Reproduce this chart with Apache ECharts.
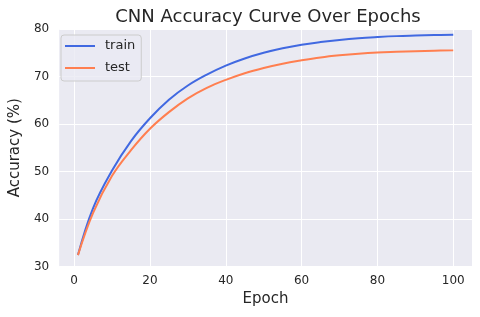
<!DOCTYPE html>
<html>
<head>
<meta charset="utf-8">
<script src="https://cdn.jsdelivr.net/npm/echarts@6/dist/echarts.min.js"></script>
<style>
html,body{margin:0;padding:0;background:#fff;}
#chart{width:480px;height:317px;}
</style>
</head>
<body>
<div id="chart"></div>
<script>
var epochs = [1, 5, 10, 15, 20, 25, 30, 35, 40, 45, 50, 55, 60, 65, 70, 75, 80, 85, 90, 95, 100];
var trainAcc = [32.4, 42.3, 50.2, 56.4, 61.2, 65.1, 68.1, 70.4, 72.3, 73.8, 75.0, 75.95, 76.7, 77.25, 77.7, 78.05, 78.3, 78.5, 78.62, 78.72, 78.8];
var testAcc = [32.4, 41.3, 49.1, 54.5, 59.0, 62.5, 65.4, 67.6, 69.3, 70.7, 71.8, 72.7, 73.4, 74.0, 74.45, 74.8, 75.05, 75.2, 75.33, 75.43, 75.5];
var xTicks = [0, 20, 40, 60, 80, 100];

var font = 'DejaVu Sans';
var txt = '#262626';
function pairs(xs, ys) { return xs.map(function (x, i) { return [x, ys[i]]; }); }

var chart = echarts.init(document.getElementById('chart'), null, {renderer: 'canvas'});
chart.setOption({
  animation: false,
  backgroundColor: '#ffffff',
  title: {
    text: 'CNN Accuracy Curve Over Epochs',
    left: 263, top: 3, textAlign: 'center',
    textStyle: {fontFamily: font, fontSize: 18, fontWeight: 'normal', color: txt}
  },
  grid: {
    left: 54, top: 29, width: 418, height: 237.5,
    show: true, backgroundColor: '#EAEAF2', borderWidth: 0, containLabel: false
  },
  legend: {
    orient: 'vertical', left: 61, top: 35,
    icon: 'rect', itemWidth: 30, itemHeight: 2, itemGap: 6,
    padding: [3, 6, 5, 4],
    backgroundColor: 'rgba(234,234,242,0.8)', borderColor: '#cccccc', borderWidth: 1, borderRadius: 3,
    textStyle: {fontFamily: font, fontSize: 13, color: txt, lineHeight: 16, padding: [0, 0, 0, 5]},
    data: ['train', 'test']
  },
  xAxis: {
    type: 'value', min: -3.95, max: 104.95,
    name: 'Epoch', nameLocation: 'middle', nameGap: 25,
    nameTextStyle: {fontFamily: font, fontSize: 15, color: txt},
    axisLine: {show: false},
    axisTick: {show: false, customValues: xTicks},
    axisLabel: {customValues: xTicks, fontFamily: font, fontSize: 12, color: txt, margin: 8},
    splitLine: {show: true, lineStyle: {color: '#ffffff', width: 1}}
  },
  yAxis: {
    type: 'value', min: 30, max: 80, interval: 10,
    name: 'Accuracy (%)', nameLocation: 'middle', nameGap: 34,
    nameTextStyle: {fontFamily: font, fontSize: 15, color: txt},
    axisLine: {show: false},
    axisTick: {show: false},
    axisLabel: {fontFamily: font, fontSize: 12, color: txt, margin: 10},
    splitLine: {show: true, lineStyle: {color: '#ffffff', width: 1}}
  },
  series: [
    {name: 'train', type: 'line', data: pairs(epochs, trainAcc), smooth: 0.4, symbol: 'none',
     lineStyle: {color: '#4169E1', width: 2}, itemStyle: {color: '#4169E1'}},
    {name: 'test', type: 'line', data: pairs(epochs, testAcc), smooth: 0.4, symbol: 'none',
     lineStyle: {color: '#FF7F50', width: 2}, itemStyle: {color: '#FF7F50'}}
  ]
});
</script>
</body>
</html>
